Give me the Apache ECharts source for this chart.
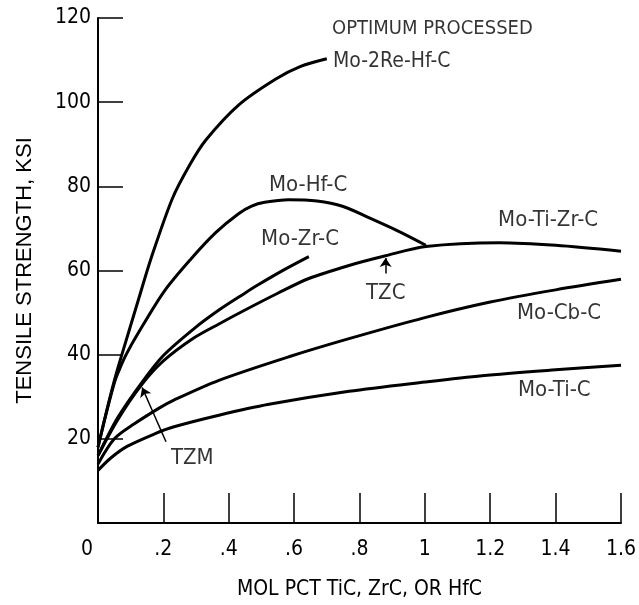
<!DOCTYPE html>
<html>
<head>
<meta charset="utf-8">
<script src="https://cdn.jsdelivr.net/npm/echarts@6/dist/echarts.min.js"></script>
<style>html,body{margin:0;padding:0;background:#fff}#c{width:639px;height:605px}</style>
</head>
<body>
<div id="c"></div>
<script>
// ---- data ----
const xTickLabels = ['0', '.2', '.4', '.6', '.8', '1', '1.2', '1.4', '1.6'];
const yTickLabels = ['', '20', '40', '60', '80', '100', '120'];

const mo2ReHfC = [[0,18],[0.025,26.2],[0.052,34.4],[0.073,40],[0.125,53.4],[0.162,62.8],[0.227,77],[0.28,85],[0.33,91],[0.43,99.3],[0.544,105.5],[0.62,108.5],[0.70,110.3]];
const moHfC = [[0,18],[0.025,26],[0.052,33.8],[0.07,37.3],[0.086,40],[0.119,44.6],[0.202,55],[0.285,62.8],[0.36,69],[0.43,73.5],[0.47,75.3],[0.51,76.2],[0.584,76.8],[0.67,76.5],[0.75,75.2],[0.83,72.5],[0.92,69.3],[1.003,66]];
const moZrC = [[0,16],[0.06,25],[0.135,33.5],[0.2,39.8],[0.294,46.2],[0.37,50.6],[0.447,54.5],[0.49,56.6],[0.57,60.2],[0.645,63.3]];
const moTiZrC = [[0,16],[0.06,24.5],[0.135,33],[0.2,38.5],[0.294,44],[0.37,47.3],[0.447,50.5],[0.55,54.6],[0.645,58.1],[0.768,61.2],[0.88,63.5],[1.003,65.7],[1.227,66.6],[1.4,66],[1.6,64.6]];
const moCbC = [[0,14],[0.05,20],[0.11,23.5],[0.187,27.3],[0.232,29.2],[0.37,33.9],[0.584,39.5],[0.768,43.8],[1.0,48.8],[1.2,52.5],[1.4,55.4],[1.6,57.9]];
const moTiC = [[0,12.5],[0.04,15.5],[0.089,18.2],[0.177,21.3],[0.23,22.8],[0.37,25.6],[0.523,28.2],[0.768,31.3],[1.0,33.5],[1.175,35],[1.4,36.4],[1.6,37.5]];

const labels = [
  ['OPTIMUM PROCESSED', 0.716, 117.4, 20],
  ['Mo-2Re-Hf-C', 0.719, 109.6, 21],
  ['Mo-Hf-C', 0.523, 80.2, 22],
  ['Mo-Zr-C', 0.499, 67.3, 22],
  ['Mo-Ti-Zr-C', 1.224, 71.9, 22],
  ['TZC', 0.82, 54.5, 22],
  ['Mo-Cb-C', 1.282, 49.8, 22],
  ['Mo-Ti-C', 1.285, 31.5, 22],
  ['TZM', 0.223, 15.4, 22]
];
const tzmArrow = [[0.208, 19.3], [0.135, 32.2]];
const tzcArrow = [[0.88, 59.3], [0.88, 63.0]];

const FONT = '"Liberation Sans Narrow","DejaVu Sans Condensed","Liberation Sans",sans-serif';
const INK = '#000';

function curve(name, data) {
  return {
    name, type: 'line', data, smooth: 0.3, symbol: 'none',
    lineStyle: { color: INK, width: 3 }, z: 3, silent: true
  };
}

const chart = echarts.init(document.getElementById('c'), null, { renderer: 'canvas' });
chart.setOption({
  animation: false,
  backgroundColor: '#fff',
  textStyle: { fontFamily: FONT },
  grid: { left: 98, right: 17, top: 18, bottom: 81, containLabel: false },
  xAxis: {
    type: 'value', min: 0, max: 1.6, interval: 0.2,
    name: 'MOL PCT TiC, ZrC, OR HfC', nameLocation: 'middle', nameGap: 56,
    nameTextStyle: { fontFamily: FONT, fontSize: 21, color: INK },
    axisLine: { show: true, lineStyle: { color: INK, width: 2 } },
    axisTick: { show: true, inside: true, length: 30, lineStyle: { color: INK, width: 1.5 } },
    axisLabel: {
      margin: 16, fontFamily: FONT, fontSize: 21, color: INK,
      formatter: v => { const s = xTickLabels[Math.round(v / 0.2)]; return v === 0 ? '{z|' + s + '}' : s; },
      rich: { z: { fontFamily: FONT, fontSize: 21, color: INK, padding: [0, 22, 0, 0] } }
    },
    splitLine: { show: false }
  },
  yAxis: {
    type: 'value', min: 0, max: 120, interval: 20,
    name: 'TENSILE STRENGTH, KSI', nameLocation: 'middle', nameGap: 62, nameRotate: 90,
    nameTextStyle: { fontFamily: '"Liberation Sans",sans-serif', fontSize: 22, color: INK },
    axisLine: { show: true, lineStyle: { color: INK, width: 2 } },
    axisTick: { show: true, inside: true, length: 25, lineStyle: { color: INK, width: 1.5 } },
    axisLabel: {
      margin: 7, fontFamily: FONT, fontSize: 21, color: INK,
      formatter: v => yTickLabels[Math.round(v / 20)]
    },
    splitLine: { show: false }
  },
  series: [
    curve('Mo-2Re-Hf-C', mo2ReHfC),
    curve('Mo-Hf-C', moHfC),
    curve('Mo-Zr-C', moZrC),
    curve('Mo-Ti-Zr-C', moTiZrC),
    curve('Mo-Cb-C', moCbC),
    curve('Mo-Ti-C', moTiC),
    {
      type: 'scatter', symbolSize: 0, silent: true, z: 5,
      data: labels.map(l => ({ value: [l[1], l[2]], name: l[0], label: { fontSize: l[3] } })),
      label: {
        show: true, position: 'right', distance: 0, formatter: p => p.name,
        fontFamily: FONT, fontSize: 22, color: INK, align: 'left', verticalAlign: 'middle'
      },
      markLine: {
        silent: true, symbol: ['none', 'arrow'], symbolSize: 9, precision: 3,
        label: { show: false },
        itemStyle: { color: INK },
        lineStyle: { color: INK, width: 1.5, type: 'solid' },
        emphasis: { disabled: true },
        data: [
          [{ coord: tzmArrow[0] }, { coord: tzmArrow[1] }],
          [{ coord: tzcArrow[0] }, { coord: tzcArrow[1] }]
        ]
      }
    }
  ]
});
</script>
</body>
</html>
